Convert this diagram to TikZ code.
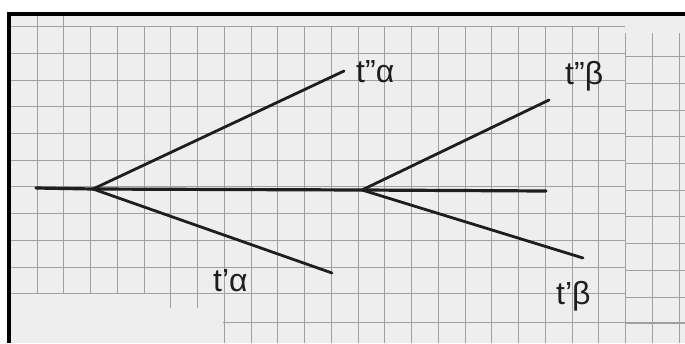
\documentclass[tikz,border=0pt]{standalone}
\usepackage{fontspec}
\setmainfont{Liberation Sans}
\definecolor{paper}{HTML}{EEEEEE}
\definecolor{gridgray}{HTML}{A0A0A0}
\definecolor{inkblack}{HTML}{1E1E1E}
\begin{document}
\begin{tikzpicture}[x=1pt,y=-1pt,
  gridline/.style={draw=gridgray, line width=0.9pt},
  pen/.style={draw=inkblack, line width=2.8pt, line cap=round},
  lbl/.style={font=\fontsize{32}{34}\selectfont, text=inkblack, inner sep=0pt, anchor=west}]
\useasboundingbox (0,0) rectangle (685,343);
\fill[white] (0,0) rectangle (685,343);
\fill[paper] (7,12) rectangle (685,343);
% grid: main sheet
\foreach \k in {0,...,21} { \draw[gridline] ({37+26.75*\k},27) -- ({37+26.75*\k},293); }
\foreach \k in {0,1} { \draw[gridline] ({37+26.75*\k},15) -- ({37+26.75*\k},27); }
\foreach \k in {5,6} { \draw[gridline] ({37+26.75*\k},293) -- ({37+26.75*\k},308); }
\foreach \k in {7,...,21} { \draw[gridline] ({37+26.75*\k},293) -- ({37+26.75*\k},343); }
\foreach \j in {1,...,11} { \draw[gridline] (10,{26.7*\j}) -- (625,{26.7*\j}); }
\draw[gridline] (223,322) -- (685,322);
% grid: right piece
\foreach \k in {22,23,24} { \draw[gridline] ({37+26.75*\k},33) -- ({37+26.75*\k},343); }
\foreach \j in {1,...,11} { \draw[gridline] (625,{30+26.7*\j}) -- (685,{30+26.7*\j}); }
% frame
\fill[black] (7,12) rectangle (685,15.5);
\fill[black] (7,12) rectangle (10.5,343);
% tree
\coordinate (s) at (36,188);
\coordinate (fa) at (93,189);
\coordinate (au) at (344,71);
\coordinate (ad) at (332,273);
\coordinate (fb) at (362,190);
\coordinate (be) at (546,191);
\coordinate (bu) at (549,100);
\coordinate (bd) at (583,258);
\draw[pen, line width=3.2pt] (s) -- (fa) -- (fb) -- (be);
\draw[pen] (fa) -- (au);
\draw[pen] (fa) -- (ad);
\draw[pen] (fb) -- (bu);
\draw[pen] (fb) -- (bd);
% labels
\node[lbl] (lau) at (356,72) {t''α};
\node[lbl] (lbu) at (565,76) {t''β};
\node[lbl] (lad) at (213,281) {t'α};
\node[lbl] (lbd) at (556,296) {t'β};
\end{tikzpicture}
\end{document}
